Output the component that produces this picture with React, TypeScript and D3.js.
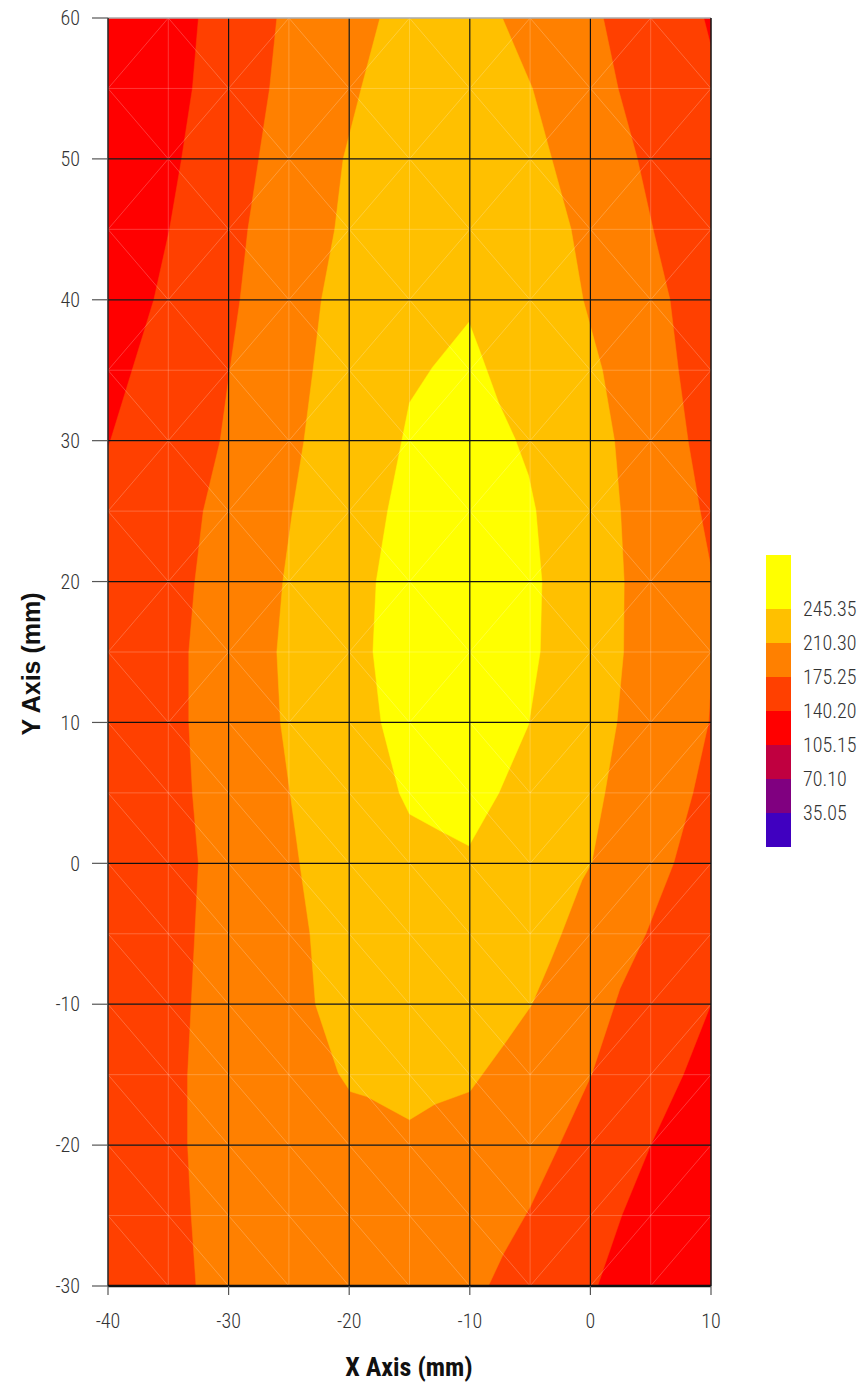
import React from 'react';
import * as d3 from 'd3';

type P = [number, number];

const xTicks = [-40, -30, -20, -10, 0, 10];
const yTicks = [-30, -20, -10, 0, 10, 20, 30, 40, 50, 60];
const xGrid = [-30, -20, -10, 0];
const yGrid = [-20, -10, 0, 10, 20, 30, 40, 50];
const legendLabels = ['245.35', '210.30', '175.25', '140.20', '105.15', '70.10', '35.05'];
const legendColors = ['#FFFF00', '#FFC000', '#FF8000', '#FF4000', '#FF0000', '#C00040', '#800080', '#4000C0'];

// contour regions (mm), each polygon = area above the level
const baseColor = '#FF0000';
const region140: P[] = [[-32.5, 60], [-33.0, 55], [-33.9, 50], [-34.9, 45], [-36.2, 40], [-37.1, 37.5], [-38.0, 35], [-39.8, 30], [-40, 29.5], [-40, -30], [0.6, -30], [2.6, -25], [5.0, -20], [7.7, -15], [10, -10], [10, 58], [9.4, 60]];
const region175: P[] = [[-26.0, 60], [-26.6, 55], [-27.5, 50], [-28.4, 45], [-29.05, 40], [-29.9, 35], [-30.7, 30], [-32.1, 25], [-32.8, 20], [-33.3, 15], [-33.3, 10], [-33.0, 5], [-32.5, 0], [-32.8, -5], [-33.1, -10], [-33.4, -15], [-33.4, -20], [-33.1, -25], [-32.7, -30], [-8.46, -30], [-7.2, -27.7], [-5.0, -24.4], [-2.58, -20], [0.1, -15], [2.45, -8.9], [4.6, -5], [6.9, 0], [8.5, 5], [9.8, 10], [10, 13], [10, 21], [9.1, 25], [8.1, 30], [7.3, 35], [6.6, 40], [5.2, 45], [3.9, 50], [2.3, 55], [1.07, 60]];
const region210: P[] = [[-17.45, 60], [-19.0, 55], [-20.5, 50], [-21.2, 45], [-22.3, 40], [-23.0, 35], [-23.75, 30], [-24.7, 25], [-25.5, 20], [-26.0, 15], [-25.7, 10], [-24.9, 5], [-24.1, 0], [-23.25, -5], [-22.8, -10], [-20.9, -14.9], [-19.9, -16.2], [-18.55, -16.55], [-15.0, -18.2], [-12.9, -17.1], [-10.0, -16.2], [-7.2, -12.9], [-4.87, -10.05], [-3.35, -7.0], [-2.4, -5], [-0.7, -1.2], [0.1, 0], [1.2, 5], [2.2, 10], [2.75, 15], [2.8, 20], [2.5, 25], [2.0, 30], [1.0, 35], [-0.6, 40], [-1.6, 45], [-3.2, 50], [-4.8, 55], [-7.3, 60]];
const region245: P[] = [[-10.07, 38.4], [-13.1, 35.2], [-15.0, 32.7], [-16.8, 25.06], [-17.76, 20.0], [-18.03, 15.03], [-17.35, 10.0], [-15.84, 4.98], [-15.0, 3.5], [-12.5, 2.33], [-10.07, 1.24], [-7.6, 4.98], [-5.12, 9.86], [-4.16, 15.03], [-4.02, 20.0], [-4.52, 25.06], [-5.12, 27.5], [-6.23, 30.1], [-7.6, 32.66], [-9.1, 36.2]];
const regions: { pts: P[]; color: string }[] = [
  { pts: region140, color: '#FF4000' },
  { pts: region175, color: '#FF8000' },
  { pts: region210, color: '#FFC000' },
  { pts: region245, color: '#FFFF00' },
];

const meshX = d3.range(-40, 10.001, 5);
const meshY = d3.range(-30, 60.001, 5);

const FONT = "'Liberation Sans Narrow', 'Roboto Condensed', 'Arial Narrow', Roboto, sans-serif";

export default function App() {
  const W = 865, H = 1385;
  const x = d3.scaleLinear().domain([-40, 10]).range([108, 711]);
  const y = d3.scaleLinear().domain([-30, 60]).range([1286, 18]);
  const line = d3.line<P>().x(d => x(d[0])).y(d => y(d[1]));

  const diagonals: { x1: number; y1: number; x2: number; y2: number }[] = [];
  for (let i = 0; i < meshX.length - 1; i++) {
    for (let j = 0; j < meshY.length - 1; j++) {
      const x0 = meshX[i], x1 = meshX[i + 1], y0 = meshY[j], y1 = meshY[j + 1];
      let back: boolean; // "\" diagonal
      if (y0 >= 10) back = (i + j) % 2 === 0;
      else back = x0 < -5;
      if (back) diagonals.push({ x1: x(x0), y1: y(y1), x2: x(x1), y2: y(y0) });
      else diagonals.push({ x1: x(x0), y1: y(y0), x2: x(x1), y2: y(y1) });
    }
  }

  const legX = 766, legW = 25, legTop = 555, firstH = 54, boxH = 34;
  const legY = (k: number) => (k === 0 ? legTop : legTop + firstH + (k - 1) * boxH);
  const legH = (k: number) => (k === 0 ? firstH : boxH);

  return (
    <svg width={W} height={H} style={{ position: 'absolute', left: 0, top: 0, background: '#fff' }}>
      <defs>
        <clipPath id="plot">
          <rect x={x(-40)} y={y(60)} width={x(10) - x(-40)} height={y(-30) - y(60)} />
        </clipPath>
      </defs>
      <g clipPath="url(#plot)">
        <rect x={x(-40)} y={y(60)} width={x(10) - x(-40)} height={y(-30) - y(60)} fill={baseColor} />
        {regions.map((r, k) => (
          <path key={k} d={line(r.pts)! + 'Z'} fill={r.color} stroke={r.color} strokeWidth={0.5} />
        ))}
        <g stroke="rgba(255,255,255,0.22)" strokeWidth={1}>
          {meshX.map(v => <line key={'mx' + v} x1={x(v)} x2={x(v)} y1={y(-30)} y2={y(60)} />)}
          {meshY.map(v => <line key={'my' + v} x1={x(-40)} x2={x(10)} y1={y(v)} y2={y(v)} />)}
          {diagonals.map((d, k) => <line key={'d' + k} {...d} />)}
        </g>
        <g stroke="#111" strokeWidth={1.2}>
          {xGrid.map(v => <line key={'gx' + v} x1={x(v)} x2={x(v)} y1={y(-30)} y2={y(60)} />)}
          {yGrid.map(v => <line key={'gy' + v} x1={x(-40)} x2={x(10)} y1={y(v)} y2={y(v)} />)}
        </g>
      </g>
      {/* frame */}
      <line x1={x(-40)} x2={x(10)} y1={y(60)} y2={y(60)} stroke="#aaa" strokeWidth={1.5} />
      <line x1={x(10)} x2={x(10)} y1={y(60)} y2={y(-30)} stroke="#111" strokeWidth={1.5} />
      <line x1={x(-40)} x2={x(-40)} y1={y(60)} y2={y(-30)} stroke="#222" strokeWidth={1.5} />
      <line x1={x(-40)} x2={x(10)} y1={y(-30)} y2={y(-30)} stroke="#111" strokeWidth={2.5} />
      {/* y ticks */}
      {yTicks.map(v => (
        <g key={'yt' + v}>
          <line x1={92} x2={x(-40)} y1={y(v)} y2={y(v)} stroke="#555" strokeWidth={1.2} />
          <text x={80} y={y(v)} dy="0.36em" textAnchor="end" fontFamily={FONT} fontWeight={300} fontSize={20} fill="#333">{v}</text>
        </g>
      ))}
      {xTicks.map(v => (
        <g key={'xt' + v}>
          <line x1={x(v)} x2={x(v)} y1={y(-30)} y2={y(-30) + 9} stroke="#555" strokeWidth={1.2} />
          <text x={x(v)} y={1328} textAnchor="middle" fontFamily={FONT} fontWeight={300} fontSize={20} fill="#333">{v}</text>
        </g>
      ))}
      <text x={409} y={1376} textAnchor="middle" fontFamily={FONT} fontWeight="bold" fontSize={26} fill="#111">X Axis (mm)</text>
      <text transform="translate(40,664) rotate(-90)" textAnchor="middle" fontFamily="'Liberation Sans', Arial, sans-serif" fontWeight="bold" fontSize={25} fill="#111">Y Axis (mm)</text>
      {/* legend */}
      {legendColors.map((c, k) => (
        <rect key={'lg' + k} x={legX} y={legY(k)} width={legW} height={legH(k)} fill={c} />
      ))}
      {legendLabels.map((t, k) => (
        <text key={'ll' + k} x={803} y={legY(k + 1)} dy="0.36em" fontFamily={FONT} fontWeight={300} fontSize={20} fill="#333">{t}</text>
      ))}
    </svg>
  );
}
